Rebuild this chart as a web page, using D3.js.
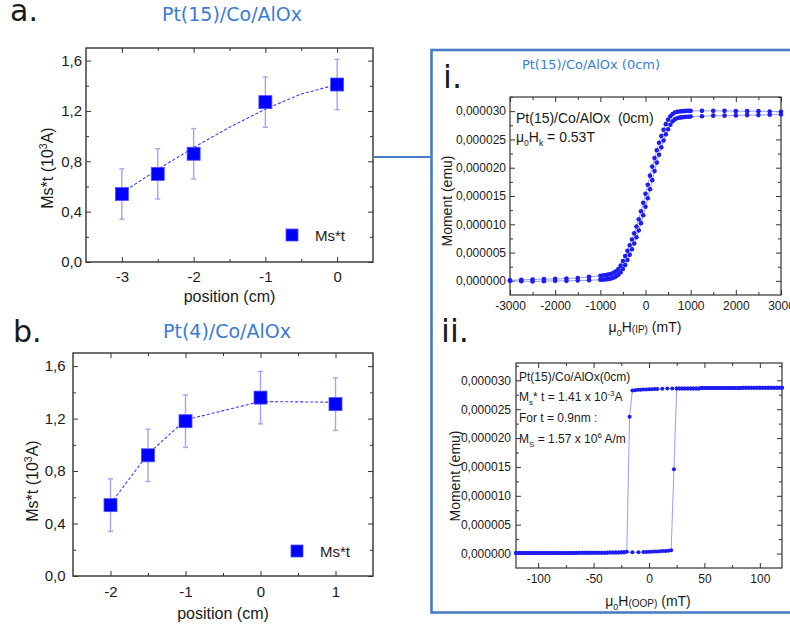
<!DOCTYPE html>
<html><head><meta charset="utf-8">
<script src="https://cdn.jsdelivr.net/npm/d3@7"></script>
<style>
body{margin:0;background:#fff;}
svg{display:block;}
text{font-family:"Liberation Sans",Arial,sans-serif;fill:#1a1a1a;}
.dj{font-family:"DejaVu Sans",Verdana,sans-serif;}
</style>
</head><body>
<svg id="c" width="790" height="630"></svg>
<script>
// ---------- Panel a: Pt(15)/Co/AlOx ----------
const posA = [-3, -2.5, -2, -1, 0];
const msA  = [0.54, 0.70, 0.86, 1.27, 1.41];
const errA = [0.2, 0.2, 0.2, 0.2, 0.2];
const fitAX = [-3, -2.5, -2, -1.5, -1, -0.5, 0];
const fitAY = [0.55, 0.735, 0.91, 1.07, 1.215, 1.335, 1.41];
const ticksAX = [-3, -2, -1, 0];
const minorAX = [-2.5, -1.5, -0.5];

// ---------- Panel b: Pt(4)/Co/AlOx ----------
const posB = [-2, -1.5, -1, 0, 1];
const msB  = [0.54, 0.92, 1.18, 1.36, 1.31];
const errB = [0.2, 0.2, 0.2, 0.2, 0.2];
const lineBY = [0.55, 0.93, 1.19, 1.33, 1.325];
const ticksBX = [-2, -1, 0, 1];
const minorBX = [-1.5, -0.5, 0.5];

const ticksMsY = [0, 0.4, 0.8, 1.2, 1.6];
const minorMsY = [0.2, 0.6, 1.0, 1.4];

// ---------- Panel i: in-plane loop (moment in 1e-6 emu) ----------
const fieldIP = [-3000,-2750,-2500,-2250,-2000,-1750,-1500,-1250,
  -1000,-950,-900,-850,-800,-750,-700,-650,-600,-550,-500,-450,-400,-350,-300,-250,-200,-150,-100,-50,
  0,50,100,150,200,250,300,350,400,450,500,550,600,650,700,750,800,850,900,950,1000,
  1250,1500,1750,2000,2250,2500,2750,3000];
const momentIPUpper = [0.1,0.2,0.25,0.3,0.35,0.4,0.5,0.7,
  0.9,0.95,1.0,1.05,1.15,1.25,1.45,1.7,2.1,2.7,3.5,4.4,5.3,6.3,7.3,8.4,9.6,10.9,12.3,13.8,
  15.4,17.0,18.6,20.2,21.7,23.1,24.4,25.6,26.7,27.7,28.5,29.1,29.5,29.75,29.9,29.95,30.0,30.0,30.05,30.05,30.05,
  30.05,30.05,30.05,30.0,30.0,30.0,29.95,29.9];
const momentIPLower = [0.0,-0.05,-0.1,-0.05,0.0,0.0,0.05,0.1,
  0.2,0.22,0.25,0.3,0.35,0.45,0.6,0.8,1.1,1.5,2.1,2.8,3.7,4.6,5.6,6.6,7.7,8.9,10.2,11.6,
  13.1,14.6,16.2,17.8,19.4,20.9,22.3,23.6,24.8,25.9,26.8,27.6,28.2,28.55,28.75,28.85,28.9,28.95,29.0,29.0,29.05,
  29.1,29.2,29.2,29.25,29.3,29.3,29.35,29.4];
const ticksIPX = [-3000,-2000,-1000,0,1000,2000,3000];
const minorIPX = [-2500,-1500,-500,500,1500,2500];

// ---------- Panel ii: out-of-plane loop (moment in 1e-6 emu) ----------
const fieldOOPDown = [120,117.5,115,112.5,110,107.5,105,102.5,100,97.5,95,92.5,90,87.5,85,
  82.5,80,77.5,75,72.5,70,67.5,65,62.5,60,57.5,55,52.5,50,47.5,
  45,42.5,40,37.5,35,32.5,30,27.5,25,
  21,16.5,12,
  7.5,5,2.5,0,-2.5,-5,-7.5,-10,-12.5,-15,
  -17.5,
  -20,-22.5,-25,-27.5,-30,-32.5,-35,-37.5,-40,-42.5,-45,-47.5,-50,-52.5,-55,-57.5,-60,-62.5,-65,-67.5,
  -70,-72.5,-75,-77.5,-80,-82.5,-85,-87.5,-90,-92.5,-95,-97.5,-100,-102.5,-105,-107.5,-110,-112.5,-115,-117.5,-120];
const momentOOPDown = [28.7,28.7,28.7,28.7,28.7,28.7,28.7,28.7,28.7,28.7,28.7,28.7,28.7,28.7,28.7,
  28.65,28.65,28.65,28.65,28.65,28.65,28.65,28.65,28.65,28.65,28.65,28.65,28.65,28.65,28.65,
  28.6,28.6,28.6,28.6,28.6,28.6,28.6,28.6,28.6,
  28.6,28.6,28.55,
  28.5,28.5,28.45,28.45,28.4,28.4,28.35,28.35,28.3,28.25,
  23.7,
  0.3,0.25,0.22,0.2,0.2,0.18,0.18,0.16,0.16,0.15,0.15,0.14,0.14,0.13,0.13,0.12,0.12,0.12,0.11,0.11,
  0.1,0.1,0.1,0.1,0.1,0.1,0.1,0.1,0.1,0.1,0.1,0.1,0.1,0.1,0.1,0.1,0.1,0.1,0.1,0.1,0.1];
const fieldOOPUp = [-120,-117.5,-115,-112.5,-110,-107.5,-105,-102.5,-100,-97.5,-95,-92.5,-90,-87.5,-85,
  -82.5,-80,-77.5,-75,-72.5,-70,-67.5,-65,-62.5,-60,-57.5,-55,-52.5,-50,-47.5,
  -45,-42.5,-40,-37.5,-35,-32.5,-30,-27.5,-25,-22.5,
  -15,-9.5,
  -5,-2.5,0,2.5,5,7.5,10,12.5,15,17.5,20,
  22.5,
  25,27.5,30,32.5,35,37.5,40,42.5,45,47.5,50,52.5,55,57.5,60,62.5,65,67.5,70,72.5,
  75,77.5,80,82.5,85,87.5,90,92.5,95,97.5,100,102.5,105,107.5,110,112.5,115,117.5,120];
const momentOOPUp = [0.1,0.1,0.1,0.1,0.1,0.1,0.1,0.1,0.1,0.1,0.1,0.1,0.1,0.1,0.1,
  0.1,0.1,0.1,0.1,0.1,0.11,0.11,0.12,0.12,0.12,0.13,0.13,0.14,0.14,0.15,
  0.15,0.16,0.16,0.17,0.17,0.18,0.18,0.19,0.2,0.2,
  0.22,0.24,
  0.27,0.29,0.31,0.33,0.35,0.37,0.4,0.43,0.46,0.5,0.58,
  14.6,
  28.6,28.6,28.6,28.6,28.6,28.6,28.6,28.6,28.6,28.65,28.65,28.65,28.65,28.65,28.65,28.65,28.65,28.65,28.65,28.65,
  28.65,28.65,28.65,28.65,28.7,28.7,28.7,28.7,28.7,28.7,28.7,28.7,28.7,28.7,28.7,28.7,28.7,28.7,28.7];
const ticksOOPX = [-100,-50,0,50,100];
const minorOOPX = [-75,-25,25,75];

const ticksMomY = [0,5,10,15,20,25,30];
const minorMomY = [2.5,7.5,12.5,17.5,22.5,27.5,32.5];

// ---------- drawing ----------
const svg = d3.select('#c');
const BLUE_T = '#3b7bd6';
const FRAME = '#4a7cc6';

function frameAxes(g, x, y, o) {
  const [xa, xb] = x.range(), [yb, ya] = y.range();
  const style = s => { s.select('.domain').remove(); s.selectAll('line').attr('stroke','#333').attr('stroke-width',1); };
  const mk = (axis, vals, size, fmt, pad) => axis.tickValues(vals).tickSizeInner(-size).tickSizeOuter(0).tickPadding(pad||0).tickFormat(fmt || (() => ''));
  // bottom
  g.append('g').attr('transform',`translate(0,${yb})`).call(mk(d3.axisBottom(x), o.xMajor, o.maj, o.xFmt, o.xPad)).call(style)
    .selectAll('text').attr('font-size', o.fs).attr('fill','#1a1a1a').attr('font-family','Liberation Sans, Arial, sans-serif');
  g.append('g').attr('transform',`translate(0,${yb})`).call(mk(d3.axisBottom(x), o.xMinor, o.min)).call(style);
  // top
  g.append('g').attr('transform',`translate(0,${ya})`).call(mk(d3.axisTop(x), o.xMajor, o.maj)).call(style);
  g.append('g').attr('transform',`translate(0,${ya})`).call(mk(d3.axisTop(x), o.xMinor, o.min)).call(style);
  // left
  g.append('g').attr('transform',`translate(${xa},0)`).call(mk(d3.axisLeft(y), o.yMajor, o.maj, o.yFmt, o.yPad)).call(style)
    .selectAll('text').attr('font-size', o.fs).attr('fill','#1a1a1a').attr('font-family','Liberation Sans, Arial, sans-serif');
  g.append('g').attr('transform',`translate(${xa},0)`).call(mk(d3.axisLeft(y), o.yMinor, o.min)).call(style);
  // right
  g.append('g').attr('transform',`translate(${xb},0)`).call(mk(d3.axisRight(y), o.yMajor, o.maj)).call(style);
  g.append('g').attr('transform',`translate(${xb},0)`).call(mk(d3.axisRight(y), o.yMinor, o.min)).call(style);
  g.append('rect').attr('x',xa).attr('y',ya).attr('width',xb-xa).attr('height',yb-ya)
    .attr('fill','none').attr('stroke','#333').attr('stroke-width',o.bw||1.3);
}

const fmtMs = v => d3.format('.1f')(v).replace('.', ',');
const fmtMom = v => (v/1e6).toFixed(6).replace('.', ',');
const fmtInt = v => String(v);

function msPanel(opt) {
  const g = svg.append('g');
  const x = d3.scaleLinear().domain(opt.xd).range([opt.x0, opt.x1]);
  const y = d3.scaleLinear().domain([0, 1.7]).range([opt.y1, opt.y0]);
  frameAxes(g, x, y, {xMajor: opt.xt, xMinor: opt.xm, yMajor: ticksMsY, yMinor: minorMsY,
    maj: 5, min: 3, fs: 15, xFmt: fmtInt, yFmt: fmtMs, xPad: opt.xPad, yPad: opt.yPad, bw: 1.4});
  // error bars
  const eb = g.append('g').attr('stroke','#a3a3ff').attr('stroke-width',1.4);
  opt.pos.forEach((p,i) => {
    const cx = x(p), t = y(opt.ms[i]+opt.err[i]), b = y(opt.ms[i]-opt.err[i]);
    eb.append('line').attr('x1',cx).attr('x2',cx).attr('y1',t).attr('y2',b);
    eb.append('line').attr('x1',cx-2.5).attr('x2',cx+2.5).attr('y1',t).attr('y2',t);
    eb.append('line').attr('x1',cx-2.5).attr('x2',cx+2.5).attr('y1',b).attr('y2',b);
  });
  // dashed line
  const pts = opt.lx.map((v,i)=>[v,opt.ly[i]]);
  g.append('path').attr('d', d3.line().x(d=>x(d[0])).y(d=>y(d[1]))(pts))
    .attr('fill','none').attr('stroke','#3a3aff').attr('stroke-width',1.1).attr('stroke-dasharray','3,2');
  // squares
  opt.pos.forEach((p,i) => {
    g.append('rect').attr('x',x(p)-6.5).attr('y',y(opt.ms[i])-6.5).attr('width',13).attr('height',13)
      .attr('fill','#0000ff').attr('stroke','#5050ff').attr('stroke-width',0.8);
  });
  // legend
  g.append('rect').attr('x',opt.lgx-6).attr('y',opt.lgy-6).attr('width',12).attr('height',12)
    .attr('fill','#0000ff').attr('stroke','#5050ff').attr('stroke-width',0.8);
  g.append('text').attr('x',opt.lgx+23).attr('y',opt.lgy+6).attr('font-size',15).text('Ms*t');
  // axis titles
  g.append('text').attr('x',(opt.x0+opt.x1)/2).attr('y',opt.xly).attr('text-anchor','middle').attr('font-size',16).text('position (cm)');
  const yl = g.append('text').attr('transform',`translate(${opt.ylx},${opt.yly}) rotate(-90)`)
    .attr('text-anchor','middle').attr('dy','0.35em').attr('font-size',16);
  yl.append('tspan').text('Ms*t (10');
  yl.append('tspan').attr('dy',-6).attr('font-size',10.5).text('3');
  yl.append('tspan').attr('dy',6).text('A)');
  // title & letter
  g.append('text').attr('class','dj').attr('x',opt.tx).attr('y',opt.ty).attr('text-anchor','middle')
    .attr('font-size',19).style('fill',BLUE_T).text(opt.title);
  g.append('text').attr('class','dj').attr('x',opt.lx0).attr('y',opt.ly0).attr('font-size',30).text(opt.letter);
}

msPanel({x0:86, x1:373, y0:48, y1:262, xd:[-3.5,0.5], xt:ticksAX, xm:minorAX,
  pos:posA, ms:msA, err:errA, lx:fitAX, ly:fitAY, xPad:9, yPad:4,
  lgx:292, lgy:235, xly:302, ylx:47, yly:168, tx:232, ty:21, title:'Pt(15)/Co/AlOx', lx0:10, ly0:21, letter:'a.'});
msPanel({x0:73, x1:373, y0:353, y1:576, xd:[-2.5,1.5], xt:ticksBX, xm:minorBX,
  pos:posB, ms:msB, err:errB, lx:posB, ly:lineBY, xPad:10.5, yPad:7.5,
  lgx:297, lgy:551, xly:619, ylx:32, yly:481, tx:227, ty:338, title:'Pt(4)/Co/AlOx', lx0:13, ly0:342, letter:'b.'});

// connector and frame
svg.append('line').attr('x1',373).attr('x2',431.5).attr('y1',157).attr('y2',157)
  .attr('stroke',FRAME).attr('stroke-width',2);
svg.append('rect').attr('x',431.5).attr('y',50).attr('width',420).attr('height',562.5)
  .attr('fill','none').attr('stroke',FRAME).attr('stroke-width',2.6);

function loopPanel(opt) {
  const g = svg.append('g');
  const x = d3.scaleLinear().domain(opt.xd).range([opt.x0, opt.x1]);
  const y = d3.scaleLinear().domain(opt.yd).range([opt.y1, opt.y0]);
  frameAxes(g, x, y, {xMajor: opt.xt, xMinor: opt.xm, yMajor: ticksMomY, yMinor: minorMomY,
    maj: 5, min: 3, fs: 12, xFmt: fmtInt, yFmt: fmtMom, xPad: opt.xPad, yPad: opt.yPad, bw: 1.2});
  const line = d3.line().x(d=>x(d[0])).y(d=>y(d[1]));
  opt.series.forEach(s => {
    const pts = s[0].map((v,i)=>[v, s[1][i]]);
    g.append('path').attr('d', line(pts)).attr('fill','none').attr('stroke','#9a9cff').attr('stroke-width',1);
  });
  opt.series.forEach(s => {
    g.append('g').selectAll('circle').data(s[0].map((v,i)=>[v, s[1][i]])).join('circle')
      .attr('cx',d=>x(d[0])).attr('cy',d=>y(d[1])).attr('r',opt.r).attr('fill','#1d1df2');
  });
  // axis titles
  const yl = g.append('text').attr('transform',`translate(${opt.ylx},${opt.yly}) rotate(-90)`)
    .attr('text-anchor','middle').attr('dy','0.35em').attr('font-size',14).text('Moment (emu)');
  const xl = g.append('text').attr('x',opt.xlx).attr('y',opt.xly).attr('text-anchor','middle').attr('font-size',14);
  xl.append('tspan').text('\u03bc');
  xl.append('tspan').attr('dy',4).attr('font-size',9).text('0');
  xl.append('tspan').attr('dy',-4).text('H');
  xl.append('tspan').attr('dy',1).attr('font-size',10).text(opt.dir);
  xl.append('tspan').attr('dy',-1).text(' (mT)');
  g.append('text').attr('class','dj').attr('x',opt.lx0).attr('y',opt.ly0).attr('font-size',32).text(opt.letter);
  return g;
}

const gi = loopPanel({x0:510, x1:781, y0:97, y1:295, xd:[-3000,3000], yd:[-2.5,32.5],
  xt:ticksIPX, xm:minorIPX, xPad:6.5, yPad:4, r:2.3,
  series:[[fieldIP, momentIPUpper],[fieldIP, momentIPLower]],
  ylx:447, yly:201, xlx:645, xly:332, dir:'(IP)', lx0:443, ly0:88, letter:'i.'});
gi.append('text').attr('class','dj').attr('x',591).attr('y',69).attr('text-anchor','middle')
  .attr('font-size',13).style('fill',BLUE_T).text('Pt(15)/Co/AlOx (0cm)');
gi.append('text').attr('x',516).attr('y',123).attr('font-size',14).style('white-space','pre').text('Pt(15)/Co/AlOx  (0cm)');
const hk = gi.append('text').attr('x',516).attr('y',142).attr('font-size',14);
hk.append('tspan').text('\u03bc');
hk.append('tspan').attr('dy',4).attr('font-size',8.5).text('0');
hk.append('tspan').attr('dy',-4).text('H');
hk.append('tspan').attr('dy',4).attr('font-size',8.5).text('k');
hk.append('tspan').attr('dy',-4).text(' = 0.53T');

const gii = loopPanel({x0:516, x1:782, y0:363, y1:568, xd:[-120,120], yd:[-2.5,33],
  xt:ticksOOPX, xm:minorOOPX, xPad:6.5, yPad:5, r:2,
  series:[[fieldOOPDown, momentOOPDown],[fieldOOPUp, momentOOPUp]],
  ylx:455, yly:476, xlx:648, xly:606, dir:'(OOP)', lx0:441, ly0:342, letter:'ii.'});
gii.append('text').attr('x',519).attr('y',381).attr('font-size',12).text('Pt(15)/Co/AlOx(0cm)');
const a1 = gii.append('text').attr('x',519).attr('y',401).attr('font-size',12);
a1.append('tspan').text('M');
a1.append('tspan').attr('dy',4).attr('font-size',8).text('s');
a1.append('tspan').attr('dy',-4).text('* t = 1.41 x 10');
a1.append('tspan').attr('dy',-5).attr('font-size',8).text('-3');
a1.append('tspan').attr('dy',5).text('A');
gii.append('text').attr('x',519).attr('y',422).attr('font-size',12).text('For t = 0.9nm :');
const a2 = gii.append('text').attr('x',519).attr('y',443).attr('font-size',12);
a2.append('tspan').text('M');
a2.append('tspan').attr('dy',4).attr('font-size',8).text('S');
a2.append('tspan').attr('dy',-4).text(' = 1.57 x 10');
a2.append('tspan').attr('dy',-5).attr('font-size',8).text('6');
a2.append('tspan').attr('dy',5).text(' A/m');
</script>
</body></html>
